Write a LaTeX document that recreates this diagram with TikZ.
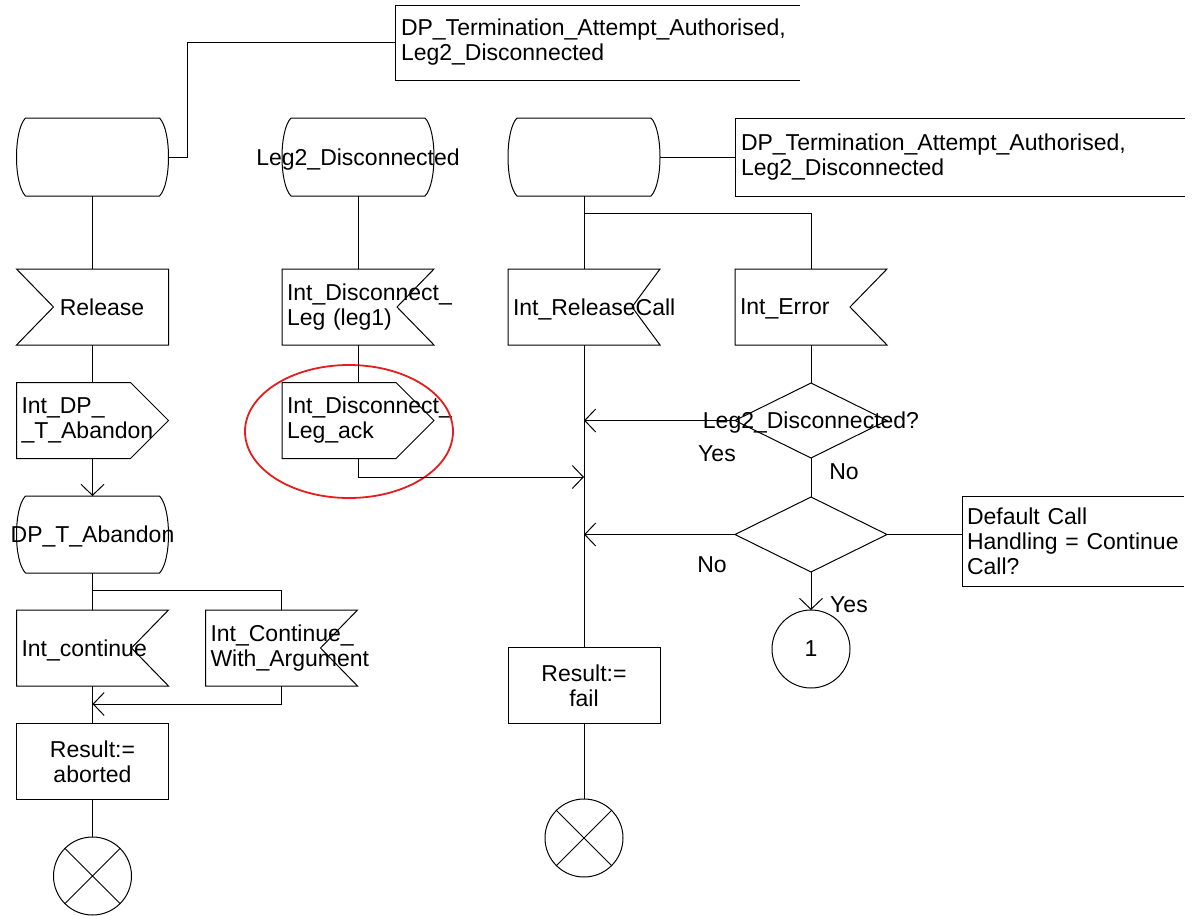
\documentclass[tikz,border=0pt]{standalone}
\usepackage{fontspec}
\setmainfont{Liberation Sans}
\usetikzlibrary{arrows.meta,shapes.geometric,calc}
\definecolor{hlred}{RGB}{228,30,30}
\hyphenpenalty=10000
\exhyphenpenalty=10000
\begin{document}
\begin{tikzpicture}[x=1pt,y=-1pt,line width=1pt,
  every node/.style={font=\fontsize{23}{25}\selectfont, inner sep=0pt, outer sep=0pt},
  arr/.style={-{Straight Barb[length=11pt,width=23pt]}},
  box/.style={minimum width=152pt, minimum height=76pt},
  lefttext/.style={text width=142pt, align=left, inner xsep=5pt},
  oneline/.style={text depth=0pt},
  sdlstate/.style={box, minimum height=78pt,
    append after command={\pgfextra{\let\LN\tikzlastnode
      \draw ($(\LN.north west)+(9,0)$) -- ($(\LN.north east)+(-9,0)$)
        .. controls ($(\LN.north east)+(3,12)$) and ($(\LN.south east)+(3,-12)$) .. ($(\LN.south east)+(-9,0)$)
        -- ($(\LN.south west)+(9,0)$)
        .. controls ($(\LN.south west)+(-3,-12)$) and ($(\LN.north west)+(-3,12)$) .. ($(\LN.north west)+(9,0)$);}}},
  inL/.style={box,
    append after command={\pgfextra{\let\LN\tikzlastnode
      \draw (\LN.north west) -- (\LN.north east) -- (\LN.south east) -- (\LN.south west)
        -- ($(\LN.west)+(#1,0)$) -- cycle;}}},
  inL/.default=37,
  inR/.style={box,
    append after command={\pgfextra{\let\LN\tikzlastnode
      \draw (\LN.north west) -- (\LN.north east) -- ($(\LN.east)+(-#1,0)$)
        -- (\LN.south east) -- (\LN.south west) -- cycle;}}},
  inR/.default=37,
  outR/.style={box,
    append after command={\pgfextra{\let\LN\tikzlastnode
      \draw (\LN.north west) -- ($(\LN.north east)+(-38,0)$) -- (\LN.east)
        -- ($(\LN.south east)+(-38,0)$) -- (\LN.south west) -- cycle;}}},
  task/.style={box, draw, align=center},
  note/.style={align=left, inner xsep=6pt,
    append after command={\pgfextra{\let\LN\tikzlastnode
      \draw (\LN.north east) -- (\LN.north west) -- (\LN.south west) -- (\LN.south east);}}},
  stop/.style={circle, draw, minimum size=78pt,
    path picture={\draw (path picture bounding box.north west) -- (path picture bounding box.south east)
      (path picture bounding box.north east) -- (path picture bounding box.south west);}},
  dia/.style={diamond, draw, minimum width=152pt, minimum height=75pt},
  con/.style={circle, draw, minimum size=78pt}
]
\useasboundingbox (0,0) rectangle (1195,916);

% ---- column 1 ----
\node[sdlstate] (s1) at (92.5,157) {};
\node[note, text width=393pt, minimum height=75pt] (c1) at (597.5,42.5)
  {DP\_Termination\_Attempt\_Authorised,\\Leg2\_Disconnected};
\node[inL, oneline] (rel) at (92.5,307) {\hspace*{19pt}Release};
\node[outR, lefttext] (odp) at (92.5,420.5) {Int\_DP\_\\\_T\_Abandon};
\node[sdlstate, minimum height=77pt, oneline] (s4) at (92.5,534.5) {\makebox[0pt]{DP\_T\_Abandon}};
\node[inR, lefttext, oneline] (ic) at (92.5,648) {Int\_continue};
\node[inR, lefttext] (icw) at (281.5,648) {Int\_Continue\_\\With\_Argument};
\node[task] (ra) at (92.5,761.5) {Result:=\\aborted};
\node[stop] (st1) at (92.5,876) {};

% ---- column 2 ----
\node[sdlstate, oneline] (s2) at (358,157) {\makebox[0pt]{Leg2\_Disconnected}};
\node[inR, lefttext] (idl) at (358,307) {Int\_Disconnect\_\\Leg (leg1)};
\node[outR, lefttext] (oack) at (358,420.5) {Int\_Disconnect\_\\Leg\_ack};
\node[ellipse, draw=hlred, line width=1.8pt, minimum width=208pt, minimum height=133pt] (hl) at (349,431.5) {};

% ---- column 3 ----
\node[sdlstate] (s3) at (584,157) {};
\node[note, text width=438pt, minimum height=78pt] (c2) at (960,157)
  {DP\_Termination\_Attempt\_Authorised,\\Leg2\_Disconnected};
\node[inR=28, lefttext, oneline] (irc) at (584,307) {Int\_ReleaseCall};
\node[inR, lefttext, oneline] (ie) at (811,307) {Int\_Error};
\node[dia] (d1) at (811,420.5) {};
\node[oneline] (d1t) at (811,420.5) {Leg2\_Disconnected?};
\node[dia] (d2) at (811,534.5) {};
\node[note, text width=212pt, inner xsep=5pt, minimum height=90pt] (c3) at (1073,541)
  {Default Call\\Handling = Continue\\Call?};
\node[con] (con1) at (811,649) {1};
\node[task] (rf) at (584,685.5) {Result:=\\fail};
\node[stop] (st2) at (584,838) {};

\node (yes1) at (717,454) {Yes};
\node (no1) at (844,472) {No};
\node (no2) at (712,565) {No};
\node (yes2) at (849,605) {Yes};

% ---- coordinates ----
\coordinate (k1) at (187,42.5);
\coordinate (b1) at (92.5,590);
\coordinate (m1) at (92.5,704);
\coordinate (j3) at (584,477);
\coordinate (b2) at (584,213);
\coordinate (j1) at (584,420.5);
\coordinate (j2) at (584,534.5);

% ---- connectors ----
\draw (c1.west) -- (k1) |- (s1.east);
\draw (s1.south) -- (rel.north);
\draw (rel.south) -- (odp.north);
\draw[arr] (odp.south) -- (s4.north);
\draw (s4.south) -- (ic.north);
\draw (b1) -| (icw.north);
\draw (ic.south) -- (ra.north);
\draw[arr] (icw.south) |- (m1);
\draw (ra.south) -- (st1.north);

\draw (s2.south) -- (idl.north);
\draw (idl.south) -- (oack.north);
\draw[arr] (oack.south) |- (j3);

\draw (s3.east) -- (c2.west);
\draw (s3.south) -- (irc.north);
\draw (b2) -| (ie.north);
\draw (irc.south) -- (rf.north);
\draw (rf.south) -- (st2.north);
\draw (ie.south) -- (d1.north);
\draw[arr] (d1.west) -- (j1);
\draw (d1.south) -- (d2.north);
\draw[arr] (d2.west) -- (j2);
\draw (d2.east) -- (d2.east -| c3.west);
\draw[arr] (d2.south) -- (con1.north);
\end{tikzpicture}
\end{document}
